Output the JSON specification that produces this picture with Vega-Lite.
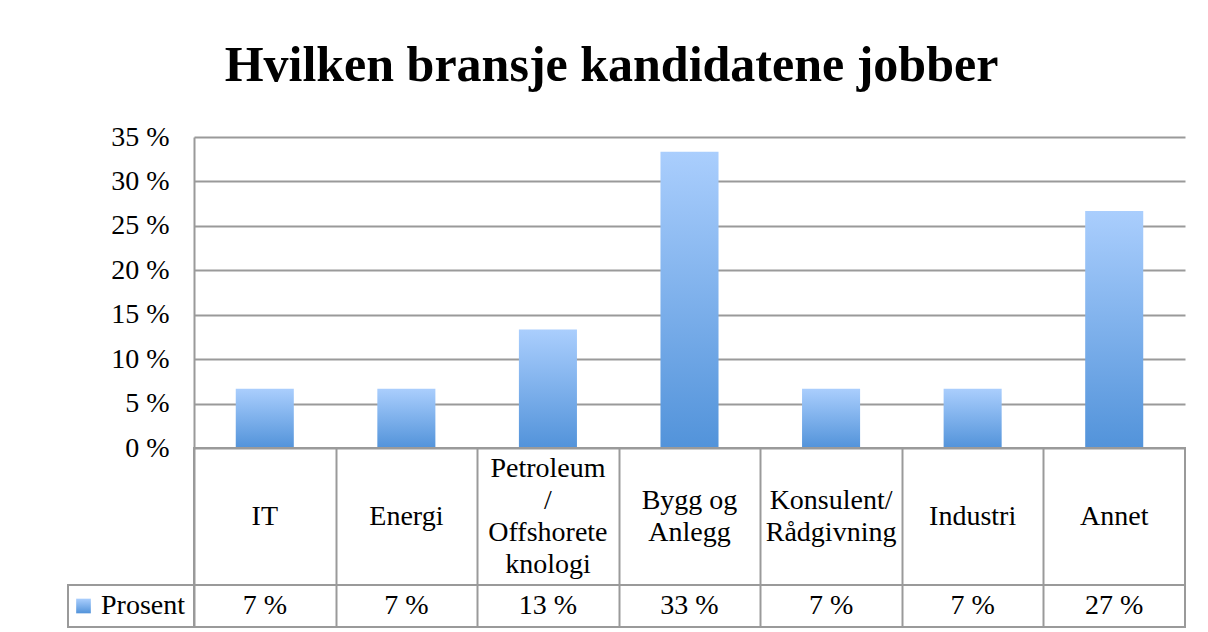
{
  "$schema": "https://vega.github.io/schema/vega-lite/v6.json",
  "background": "white",
  "padding": {"left": 67, "top": 41, "right": 0, "bottom": 0},
  "config": {
    "font": "Liberation Serif",
    "view": {"stroke": "#9a9a9a", "strokeWidth": 2},
    "text": {"color": "#000000"}
  },
  "title": {
    "text": "Hvilken bransje kandidatene jobber",
    "font": "Liberation Serif",
    "fontSize": 50,
    "fontWeight": "bold",
    "color": "#000000",
    "anchor": "middle",
    "dx": -15,
    "offset": 32
  },
  "datasets": {
    "bransjer": [
      {"bransje": "IT", "etikett": "IT", "prosent": 6.67},
      {"bransje": "Energi", "etikett": "Energi", "prosent": 6.67},
      {"bransje": "Petroleum / Offshoreteknologi", "etikett": "Petroleum\n/\nOffshorete\nknologi", "prosent": 13.33},
      {"bransje": "Bygg og Anlegg", "etikett": "Bygg og\nAnlegg", "prosent": 33.33},
      {"bransje": "Konsulent/Rådgivning", "etikett": "Konsulent/\nRådgivning", "prosent": 6.67},
      {"bransje": "Industri", "etikett": "Industri", "prosent": 6.67},
      {"bransje": "Annet", "etikett": "Annet", "prosent": 26.67}
    ]
  },
  "columns": 2,
  "spacing": 0,
  "bounds": "flush",
  "align": "each",
  "concat": [
    {
      "data": {"values": []},
      "width": 126,
      "height": 10,
      "view": {"stroke": null},
      "mark": "point",
      "encoding": {}
    },
    {
      "data": {"name": "bransjer"},
      "width": 991,
      "height": 311,
      "view": {"stroke": null},
      "mark": {
        "type": "bar",
        "fill": {
          "gradient": "linear",
          "x1": 0, "y1": 0, "x2": 0, "y2": 1,
          "stops": [
            {"offset": 0, "color": "#aacefd"},
            {"offset": 1, "color": "#5293da"}
          ]
        }
      },
      "encoding": {
        "x": {
          "field": "bransje",
          "type": "nominal",
          "sort": null,
          "axis": null,
          "scale": {"paddingInner": 0.59, "paddingOuter": 0.295}
        },
        "y": {
          "field": "prosent",
          "type": "quantitative",
          "scale": {"domain": [0, 35], "nice": false},
          "axis": {
            "values": [0, 5, 10, 15, 20, 25, 30, 35],
            "labelExpr": "datum.value + ' %'",
            "title": null,
            "grid": true,
            "gridColor": "#9a9a9a",
            "gridWidth": 2,
            "domainColor": "#9a9a9a",
            "domainWidth": 2,
            "ticks": false,
            "labelFontSize": 28,
            "labelColor": "#000000",
            "labelPadding": 25
          }
        }
      }
    },
    {
      "data": {"values": []},
      "width": 126,
      "height": 10,
      "view": {"stroke": null},
      "mark": "point",
      "encoding": {}
    },
    {
      "data": {"name": "bransjer"},
      "width": 991,
      "height": 137,
      "mark": {
        "type": "text",
        "fontSize": 28,
        "lineBreak": "\n",
        "lineHeight": 32,
        "baseline": "middle",
        "color": "#000000",
        "dy": {"expr": "-(length(split(datum.etikett, '\\n')) - 1) * 16"}
      },
      "encoding": {
        "x": {
          "field": "bransje",
          "type": "nominal",
          "sort": null,
          "scale": {"paddingInner": 0, "paddingOuter": 0},
          "axis": {"grid": true, "gridColor": "#9a9a9a", "gridWidth": 2, "tickBand": "extent", "labels": false, "ticks": false, "domain": false, "title": null}
        },
        "text": {"field": "etikett"}
      }
    },
    {
      "data": {"values": [{"serie": "Prosent"}]},
      "width": 126,
      "height": 42,
      "layer": [
        {
          "mark": {
            "type": "point",
            "shape": "square",
            "filled": true,
            "size": 215,
            "opacity": 1,
            "xOffset": 15.5,
            "fill": {
              "gradient": "linear",
              "x1": 0, "y1": 0, "x2": 0, "y2": 1,
              "stops": [
                {"offset": 0, "color": "#aacefd"},
                {"offset": 1, "color": "#5293da"}
              ]
            }
          },
          "encoding": {"x": {"value": 0}}
        },
        {
          "mark": {"type": "text", "fontSize": 28, "align": "right", "baseline": "middle", "dx": -9, "color": "#000000"},
          "encoding": {"x": {"value": "width"}, "text": {"field": "serie"}}
        }
      ]
    },
    {
      "data": {"name": "bransjer"},
      "width": 991,
      "height": 42,
      "transform": [{"calculate": "format(datum.prosent, '.0f') + ' %'", "as": "tekst"}],
      "mark": {"type": "text", "fontSize": 28, "baseline": "middle", "color": "#000000"},
      "encoding": {
        "x": {
          "field": "bransje",
          "type": "nominal",
          "sort": null,
          "scale": {"paddingInner": 0, "paddingOuter": 0},
          "axis": {"grid": true, "gridColor": "#9a9a9a", "gridWidth": 2, "tickBand": "extent", "labels": false, "ticks": false, "domain": false, "title": null}
        },
        "text": {"field": "tekst"}
      }
    }
  ]
}
